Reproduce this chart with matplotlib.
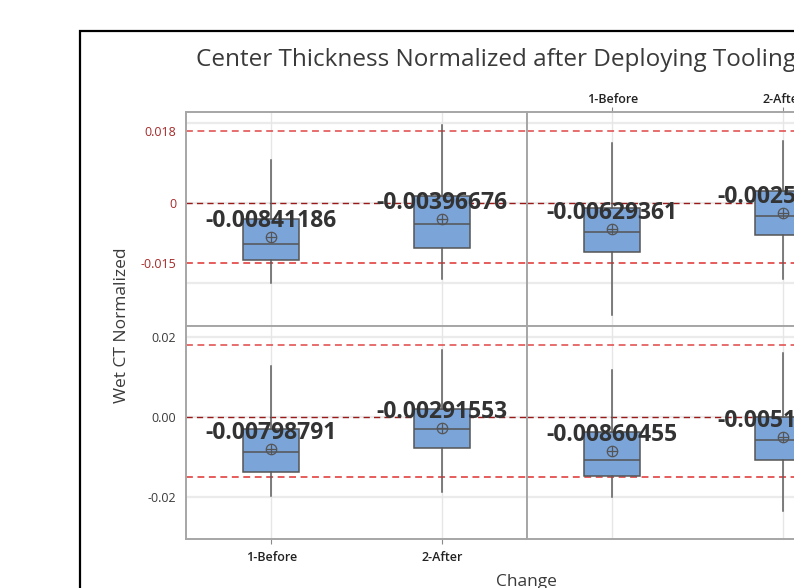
import numpy as np
import matplotlib.pyplot as plt
from matplotlib.patches import Rectangle

plt.rcParams['font.family'] = ['Open Sans', 'DejaVu Sans']

# Данные. Панели: верх-лево, верх-право, низ-лево, низ-право
groups = ['1-Before', '2-After']
whisker_high = [[0.0109, 0.0195], [0.0149, 0.0156], [0.0128, 0.0168], [0.0118, 0.0159]]
box_q3 = [[-0.0040, 0.0019], [-0.0011, 0.0030], [-0.0031, 0.0019], [-0.0038, -0.0001]]
box_median = [[-0.0101, -0.0051], [-0.0071, -0.0031], [-0.0088, -0.0030], [-0.0108, -0.0058]]
box_q1 = [[-0.0141, -0.0111], [-0.0121, -0.0080], [-0.0139, -0.0078], [-0.0149, -0.0108]]
whisker_low = [[-0.0199, -0.0188], [-0.0279, -0.0190], [-0.0198, -0.0188], [-0.0200, -0.0237]]
means = [[-0.00841186, -0.00396676], [-0.00629361, -0.00254178],
         [-0.00798791, -0.00291553], [-0.00860455, -0.00513626]]

ref_values = [0.018, 0.0, -0.015]
ref_labels = ['0.018', '0', '-0.015']
grid_values = [-0.02, 0.0, 0.02]
grid_labels = ['-0.02', '0.00', '0.02']

title = 'Center Thickness Normalized after Deploying Tooling Design'

W, H = 794, 588
fig = plt.figure(figsize=(W / 100, H / 100), dpi=100)


def px_axes(x0, y0, x1, y1):
    return fig.add_axes([x0 / W, 1 - y1 / H, (x1 - x0) / W, (y1 - y0) / H])


axes = [px_axes(186, 112, 527, 326), px_axes(527, 112, 868, 326),
        px_axes(186, 326, 527, 539), px_axes(527, 326, 868, 539)]

positions = [1, 2]
text_c = '#3a3a3a'
box_c = '#7ba4d8'
edge_c = '#555555'

for k, ax in enumerate(axes):
    ax.set_xlim(0.5, 2.5)
    ax.set_ylim(-0.0306, 0.02275)
    for y in grid_values:
        ax.axhline(y, color='#ebebeb', lw=1.6, zorder=0)
    for x in positions:
        ax.axvline(x, color='#e6e6e6', lw=1, zorder=0)
    # референсные линии
    ax.axhline(ref_values[0], color='#e04545', lw=1.1, ls=(0, (4.5, 3)), zorder=1)
    ax.axhline(ref_values[1], color='#9a1a1a', lw=1.0, ls=(0, (4.5, 3)), zorder=1)
    ax.axhline(ref_values[2], color='#e03030', lw=1.1, ls=(0, (4.5, 3)), zorder=1)

    stats = []
    for i in range(2):
        stats.append(dict(med=box_median[k][i], q1=box_q1[k][i], q3=box_q3[k][i],
                          whislo=whisker_low[k][i], whishi=whisker_high[k][i],
                          mean=means[k][i], fliers=[]))
    ax.bxp(stats, positions=positions, widths=0.33, patch_artist=True,
           showmeans=True, showcaps=False,
           boxprops=dict(facecolor=box_c, edgecolor=edge_c, lw=1.1),
           medianprops=dict(color=edge_c, lw=1.1),
           whiskerprops=dict(color='#5c5c5c', lw=1.1),
           meanprops=dict(marker='o', markerfacecolor='none', markeredgecolor='#555555',
                          markersize=7.5, markeredgewidth=0.9))
    ax.plot(positions, means[k], '+', color='#555555', markersize=7.5, mew=0.9, zorder=4)
    for x, m in zip(positions, means[k]):
        ax.annotate(f'{m:.8f}', (x, m), xytext=(0, 11.5), textcoords='offset points',
                    ha='center', va='center', fontsize=16.5, fontweight='bold',
                    color='#333333', zorder=5)

    for s in ax.spines.values():
        s.set_color('#a6a6a6')
        s.set_linewidth(1.4)
    ax.tick_params(axis='y', length=0, pad=7, labelsize=9, labelcolor=text_c)
    ax.tick_params(axis='x', length=3.5, color='#8a8a8a', labelsize=9, labelcolor='#222222', pad=5)
    ax.set_xticks(positions)
    ax.set_xticklabels(groups, fontweight='semibold')

# подписи оси Y: верхняя строка - красные референсные значения, нижняя - обычные
axes[0].set_yticks(ref_values)
axes[0].set_yticklabels(ref_labels, color='#a52a2a')
axes[2].set_yticks(grid_values)
axes[2].set_yticklabels(grid_labels)
for ax in (axes[1], axes[3]):
    ax.set_yticks(grid_values)
    ax.tick_params(axis='y', labelleft=False)

# подписи категорий: слева снизу, справа сверху
axes[0].tick_params(axis='x', bottom=False, labelbottom=False)
axes[1].tick_params(axis='x', bottom=False, labelbottom=False, top=True, labeltop=True, pad=1)
axes[3].tick_params(axis='x', bottom=False, labelbottom=False)

fig.text(196 / W, 1 - 60 / H, title, ha='left', va='center', fontsize=17.5, color=text_c)
fig.text(122 / W, 1 - 325 / H, 'Wet CT Normalized', rotation=90, ha='center',
         va='center', fontsize=12.5, color=text_c)
fig.text(526 / W, 1 - 582 / H, 'Change', ha='center', va='center', fontsize=12.5, color=text_c)

# внешняя рамка
fig.add_artist(Rectangle((80 / W, -0.1), 2, 1.1 - 31 / H, transform=fig.transFigure,
                         fill=False, ec='black', lw=1.6))

fig.savefig('out.png', dpi=100)
